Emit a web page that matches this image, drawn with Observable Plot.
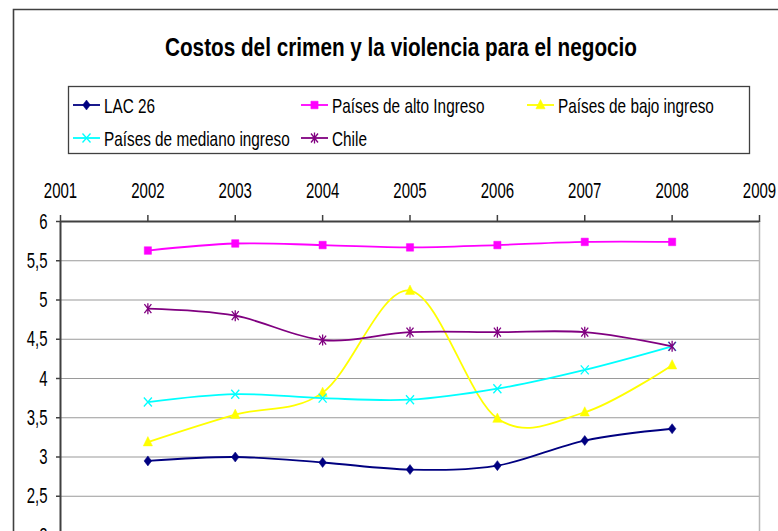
<!DOCTYPE html>
<html>
<head>
<meta charset="utf-8">
<script src="https://cdn.jsdelivr.net/npm/d3@7"></script>
<script src="https://cdn.jsdelivr.net/npm/@observablehq/plot@0.6"></script>
<style>
  html, body { margin: 0; padding: 0; background: #fff; overflow: hidden; }
  #chart { position: relative; width: 778px; height: 531px; overflow: hidden; }
</style>
</head>
<body>
<div id="chart"></div>
<script>
const title = "Costos del crimen y la violencia para el negocio";
const years = [2002, 2003, 2004, 2005, 2006, 2007, 2008];
const axisYears = [2001, 2002, 2003, 2004, 2005, 2006, 2007, 2008, 2009];
const yTicks = [2, 2.5, 3, 3.5, 4, 4.5, 5, 5.5, 6];
const seriesNames = ["LAC 26", "Países de alto Ingreso", "Países de bajo ingreso", "Países de mediano ingreso", "Chile"];
const lac26 = [2.95, 3.00, 2.93, 2.84, 2.89, 3.21, 3.36];
const altoIngreso = [5.63, 5.72, 5.70, 5.67, 5.70, 5.74, 5.74];
const bajoIngreso = [3.19, 3.54, 3.82, 5.12, 3.49, 3.57, 4.17];
const medianoIngreso = [3.70, 3.80, 3.75, 3.73, 3.87, 4.11, 4.41];
const chile = [4.89, 4.80, 4.49, 4.59, 4.59, 4.59, 4.41];

const seriesValues = [lac26, altoIngreso, bajoIngreso, medianoIngreso, chile];
const colors = ["#000080", "#FF00FF", "#FFFF00", "#00FFFF", "#800080"];

// custom marker shapes (styles)
const symDiamond = {draw(c) { c.moveTo(0, -5); c.lineTo(3.8, 0); c.lineTo(0, 5); c.lineTo(-3.8, 0); c.closePath(); }};
const symSquare = {draw(c) { c.rect(-3.6, -3.8, 7.2, 7.6); }};
const symTriangle = {draw(c) { c.moveTo(0, -5.5); c.lineTo(4.6, 3.8); c.lineTo(-4.6, 3.8); c.closePath(); }};
const symTimes = {draw(c) { c.moveTo(-4, -4.5); c.lineTo(4, 4.5); c.moveTo(4, -4.5); c.lineTo(-4, 4.5); }};
const symAsterisk = {draw(c) { c.moveTo(-3.5, -4.5); c.lineTo(3.5, 4.5); c.moveTo(3.5, -4.5); c.lineTo(-3.5, 4.5); c.moveTo(0, -5.5); c.lineTo(0, 5.5); }};
const symbols = [symDiamond, symSquare, symTriangle, symTimes, symAsterisk];
const filled = [true, true, true, false, false];

const rows = seriesNames.map((name, i) => years.map((year, j) => ({serie: name, year, value: seriesValues[i][j]})));

const marks = [
  Plot.gridY(yTicks, {stroke: "#9a9a9a", strokeOpacity: 1, strokeWidth: 1.2}),
  Plot.ruleX([2009], {stroke: "#b8b8b8", strokeWidth: 1.5}),
  Plot.axisX(axisYears, {anchor: "top", tickSize: 7, tickFormat: () => "", stroke: "#404040", strokeWidth: 1.5, label: null}),
  Plot.text(axisYears, {x: d => d, text: d => String(d), frameAnchor: "top", dy: -31, lineAnchor: "middle", fontSize: 22, fill: "#000"}),
  Plot.axisY(yTicks, {anchor: "left", tickSize: 4, tickPadding: 9, fontSize: 22, tickFormat: d => String(d).replace(".", ","), stroke: "#404040", strokeWidth: 1.5, label: null, fill: "#000"}),
  Plot.ruleY([6], {stroke: "#404040", strokeWidth: 2}),
  Plot.ruleX([2001], {stroke: "#404040", strokeWidth: 2})
];
rows.forEach((data, i) => {
  marks.push(Plot.line(data, {x: "year", y: "value", stroke: colors[i], strokeWidth: 1.8, curve: "cardinal", tension: 0}));
  marks.push(Plot.dot(data, {x: "year", y: "value", symbol: symbols[i], r: 4,
    fill: filled[i] ? colors[i] : "none", stroke: colors[i], strokeWidth: filled[i] ? 0.5 : 1.3}));
});

const svg = Plot.plot({
  width: 778,
  height: 545,
  marginTop: 221,
  marginLeft: 60,
  marginRight: 19,
  marginBottom: 10,
  style: {fontFamily: "'Liberation Sans', Arial, sans-serif", fontSize: "22px", background: "#fff", overflow: "visible", color: "#000"},
  x: {domain: [2001, 2009], type: "linear"},
  y: {domain: [2, 6]},
  marks
});
document.getElementById("chart").appendChild(svg);

const root = d3.select(svg);
// squash axis text to match the condensed look
root.selectAll("text").each(function () {
  const w = this.getComputedTextLength();
  if (w > 0) { this.setAttribute("textLength", (w * 0.68).toFixed(1)); this.setAttribute("lengthAdjust", "spacingAndGlyphs"); }
});

// outer frame
root.append("path").attr("d", "M13.5,560 V9.5 H800").attr("fill", "none").attr("stroke", "#404040").attr("stroke-width", 1.6);

// title
const t = root.append("text").attr("x", 401).attr("y", 56).attr("text-anchor", "middle")
  .attr("font-size", 25).attr("font-weight", "bold").attr("fill", "#000").text(title);
t.attr("textLength", 472).attr("lengthAdjust", "spacingAndGlyphs");

// legend
const leg = root.append("g");
leg.append("rect").attr("x", 68.5).attr("y", 86.5).attr("width", 681).attr("height", 67)
  .attr("fill", "#fff").attr("stroke", "#404040").attr("stroke-width", 1.3);
const legPos = [[73, 105], [301, 105], [527, 105], [73, 138], [301, 138]];
seriesNames.forEach((name, i) => {
  const [x0, y0] = legPos[i];
  leg.append("line").attr("x1", x0).attr("x2", x0 + 27).attr("y1", y0).attr("y2", y0)
    .attr("stroke", colors[i]).attr("stroke-width", 1.8);
  leg.append("path").attr("transform", `translate(${x0 + 13.5},${y0})`)
    .attr("d", d3.symbol(symbols[i])())
    .attr("fill", filled[i] ? colors[i] : "none").attr("stroke", colors[i]).attr("stroke-width", filled[i] ? 0.5 : 1.3);
  leg.append("text").attr("transform", `translate(${x0 + 31},${y0}) scale(0.73,1)`)
    .attr("x", 0).attr("y", 0).attr("dy", "0.36em")
    .attr("text-anchor", "start").attr("font-size", 21).attr("fill", "#000").text(name);
});
</script>
</body>
</html>
